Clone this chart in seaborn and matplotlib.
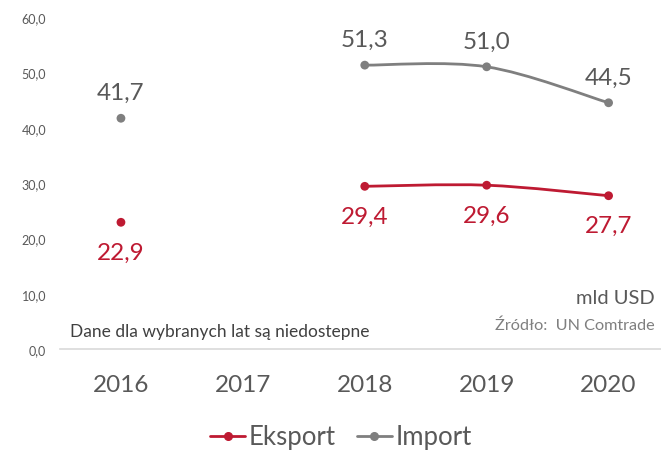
import numpy as np
import pandas as pd
import matplotlib
matplotlib.use("Agg")
import matplotlib.pyplot as plt
from matplotlib.path import Path
from matplotlib.patches import PathPatch
from matplotlib.lines import Line2D
import seaborn as sns

years = ["2016", "2017", "2018", "2019", "2020"]
eksport = [22.9, np.nan, 29.4, 29.6, 27.7]
import_ = [41.7, np.nan, 51.3, 51.0, 44.5]
y_ticks = [0, 10, 20, 30, 40, 50, 60]

RED = "#BE1A32"
GRAY = "#7F7F7F"
TXT = "#595959"

sns.set_theme(style="white")
plt.rcParams['font.family'] = ['Lato', 'DejaVu Sans']

df = pd.DataFrame({
    "x": list(range(len(years))) * 2,
    "value": eksport + import_,
    "series": ["Eksport"] * len(years) + ["Import"] * len(years),
})

fig = plt.figure(figsize=(6.61, 4.52), dpi=100)
ax = fig.add_axes([60 / 661, 102 / 452, 601 / 661, 332 / 452])

sns.scatterplot(data=df, x="x", y="value", hue="series",
                palette={"Eksport": RED, "Import": GRAY},
                s=40, edgecolor="none", legend=False, ax=ax, zorder=4)


def smooth_path(xs, ys):
    runs, cur = [], []
    for x, y in zip(xs, ys):
        if np.isnan(y):
            if cur:
                runs.append(cur)
            cur = []
        else:
            cur.append((x, y))
    if cur:
        runs.append(cur)
    paths = []
    for run in runs:
        if len(run) < 2:
            continue
        P = np.array(run, dtype=float)
        verts = [P[0]]
        codes = [Path.MOVETO]
        n = len(P)
        for i in range(n - 1):
            p0 = P[i - 1] if i > 0 else P[i]
            p1, p2 = P[i], P[i + 1]
            p3 = P[i + 2] if i + 2 < n else P[i + 1]
            c1 = p1 + (p2 - p0) / 6
            c2 = p2 - (p3 - p1) / 6
            verts += [c1, c2, p2]
            codes += [Path.CURVE4] * 3
        paths.append(Path(verts, codes))
    return paths


xs = list(range(len(years)))
for vals, col in [(eksport, RED), (import_, GRAY)]:
    for p in smooth_path(xs, vals):
        ax.add_patch(PathPatch(p, facecolor="none", edgecolor=col, lw=2.0, zorder=3))

# data labels
for i, v in enumerate(import_):
    if not np.isnan(v):
        ax.annotate(f"{v:.1f}".replace(".", ","), (i, v), xytext=(0, 11),
                    textcoords="offset points", ha="center", va="bottom",
                    fontsize=17.5, color=TXT)
for i, v in enumerate(eksport):
    if not np.isnan(v):
        ax.annotate(f"{v:.1f}".replace(".", ","), (i, v), xytext=(0, -14),
                    textcoords="offset points", ha="center", va="top",
                    fontsize=17.5, color=RED)

ax.set_xlim(-0.5, 4.43)
ax.set_ylim(0, 60)
ax.set_xticks(xs)
ax.set_xticklabels(years, fontsize=17.5, color=TXT)
ax.set_yticks(y_ticks)
ax.set_yticklabels([f"{t:.1f}".replace(".", ",") for t in y_ticks], fontsize=9, color=TXT)
ax.tick_params(axis="x", length=0, pad=18)
ax.tick_params(axis="y", length=0, pad=10)
ax.set_xlabel("")
ax.set_ylabel("")
for s in ["top", "right", "left"]:
    ax.spines[s].set_visible(False)
ax.spines["bottom"].set_color("#D9D9D9")
ax.spines["bottom"].set_linewidth(1.2)
ax.grid(False)

fig.text(655 / 661, 1 - 298 / 452, "mld USD", ha="right", va="center",
         fontsize=14.5, color=TXT)
fig.text(655 / 661, 1 - 326 / 452, "Źródło:  UN Comtrade", ha="right", va="center",
         fontsize=11.7, color="#7F7F7F")
fig.text(70 / 661, 1 - 332 / 452, "Dane dla wybranych lat są niedostepne", ha="left",
         va="center", fontsize=12.5, color="#404040")

handles = [Line2D([0], [0], color=RED, lw=2, marker="o", markersize=5.5),
           Line2D([0], [0], color=GRAY, lw=2, marker="o", markersize=5.5)]
fig.legend(handles, ["Eksport", "Import"], loc="center", bbox_to_anchor=(341 / 661, 1 - 438 / 452),
           ncol=2, frameon=False, fontsize=18.5, labelcolor=TXT, handlelength=1.36,
           handletextpad=0.15, columnspacing=0.8)

fig.savefig("out.png", dpi=100)
